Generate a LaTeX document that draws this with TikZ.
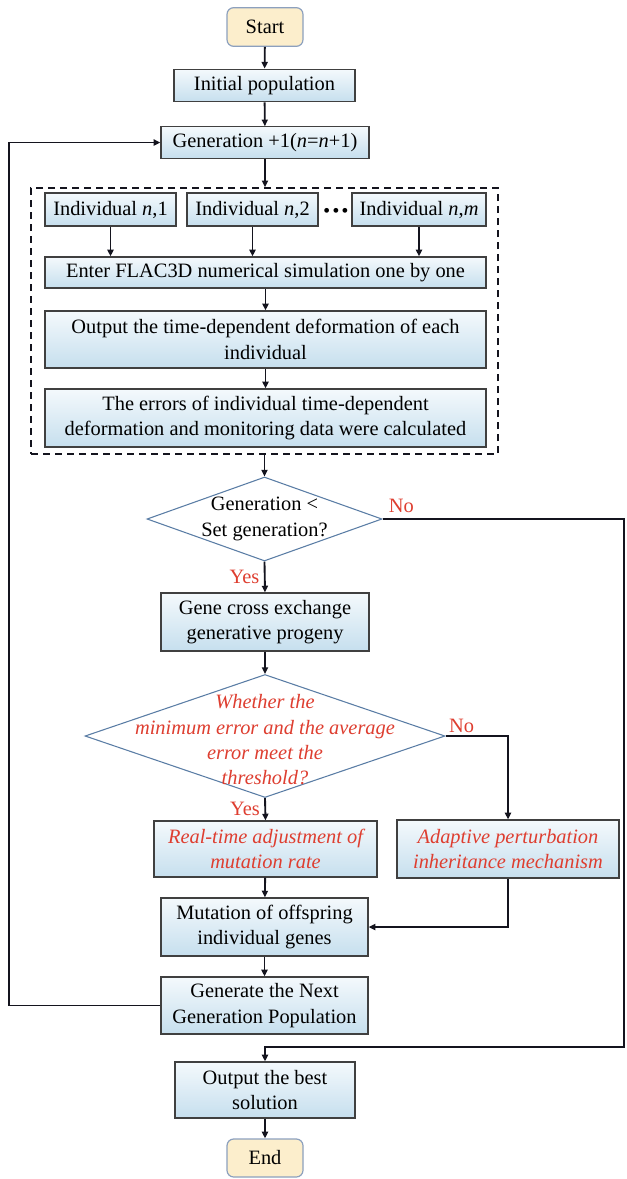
\documentclass[tikz,border=0pt]{standalone}
\usepackage{fontspec}
\setmainfont{Liberation Serif}
\usetikzlibrary{shapes.geometric,arrows.meta}
\definecolor{boxtop}{RGB}{244,249,252}
\definecolor{boxbot}{RGB}{198,223,238}
\definecolor{boxline}{RGB}{64,64,64}
\definecolor{termfill}{RGB}{252,238,204}
\definecolor{termline}{RGB}{140,160,190}
\definecolor{dialine}{RGB}{90,125,165}
\definecolor{linecol}{RGB}{20,20,30}
\definecolor{ansred}{RGB}{222,62,48}
\newcommand{\flowfont}{\fontsize{15.3pt}{19pt}\selectfont}
\tikzset{
  proc/.style={draw=boxline, line width=0.9pt, top color=boxtop, bottom color=boxbot,
    align=center, inner sep=1pt, font=\flowfont},
  term/.style={draw=termline, line width=0.9pt, fill=termfill, rounded corners=5pt,
    minimum width=57pt, minimum height=29pt, font=\flowfont},
  decision/.style={diamond, draw=dialine, line width=0.8pt, fill=white, inner sep=0pt},
  dtext/.style={align=center, font=\flowfont},
  grpbox/.style={draw=linecol, line width=1.2pt, dash pattern=on 5.5pt off 3.5pt},
  flow/.style={draw=linecol, line width=1.4pt, -{Triangle[length=5pt,width=4.5pt]}},
  ans/.style={text=ansred, font=\flowfont}
}
\begin{document}
\begin{tikzpicture}[x=0.75pt,y=-0.75pt]
\useasboundingbox (0,0) rectangle (626,1179);
% top part
\node[term] (start) at (265,27) {Start};
\node[proc, minimum width=135.75pt, minimum height=24.5pt] (init) at (264.5,85.5) {Initial population};
\node[proc, minimum width=156pt, minimum height=23.5pt] (gen) at (265,142.5) {Generation +1(\textit{n}=\textit{n}+1)};
% group of individuals
\node[grpbox, minimum width=350.25pt, minimum height=199.5pt] (grp) at (264.5,321) {};
\node[proc, minimum width=98.25pt, minimum height=24.75pt] (ind1) at (110.5,209.5) {Individual \textit{n},1};
\node[proc, minimum width=98.25pt, minimum height=24.75pt] (ind2) at (252.5,209.5) {Individual \textit{n},2};
\node[proc, minimum width=100.5pt, minimum height=24.75pt] (indm) at (419,209.5) {Individual \textit{n},\textit{m}};
\node[inner sep=0pt] (dots) at (336,214) {\fontsize{22pt}{22pt}\selectfont\bfseries ·\kern-0.5pt·\kern-0.5pt·};
\node[proc, minimum width=330.75pt, minimum height=23.25pt] (enter) at (265.5,272.5) {Enter FLAC3D numerical simulation one by one};
\node[proc, minimum width=330.75pt, minimum height=42.75pt] (outp) at (265.5,339.5) {Output the time-dependent deformation of each\\individual};
\node[proc, minimum width=330.75pt, minimum height=43.5pt] (errs) at (265.5,418) {The errors of individual time-dependent\\deformation and monitoring data were calculated};
% decisions and operators
\node[decision, minimum width=176.25pt, minimum height=63pt] (d1) at (264.5,519) {};
\node[dtext] (d1t) at (d1) {Generation <\\Set generation?};
\node[proc, minimum width=156pt, minimum height=43.5pt] (gene) at (265,622) {Gene cross exchange\\generative progeny};
\node[decision, minimum width=270pt, minimum height=92.25pt] (d2) at (265,736) {};
\node[dtext, text=ansred, font=\flowfont\itshape] (d2t) at (265,740) {Whether the\\minimum error and the average\\error meet the\\threshold?};
\node[proc, text=ansred, font=\flowfont\itshape, minimum width=167.25pt, minimum height=42pt] (real) at (265.5,849) {Real-time adjustment of\\mutation rate};
\node[proc, text=ansred, font=\flowfont\itshape, minimum width=166.5pt, minimum height=43.5pt] (adapt) at (508,849) {Adaptive perturbation\\inheritance mechanism};
\node[proc, minimum width=155.25pt, minimum height=43.5pt] (mut) at (264.5,927) {Mutation of offspring\\individual genes};
\node[proc, minimum width=155.25pt, minimum height=42.75pt] (next) at (264.5,1005.5) {Generate the Next\\Generation Population};
\node[proc, minimum width=135pt, minimum height=42pt] (best) at (265,1090) {Output the best\\solution};
\node[term, minimum height=28.5pt] (stop) at (265,1158) {End};
\coordinate (loopx) at (9,0);
\coordinate (rightx) at (624,0);
\coordinate (joiny) at (0,1047);
% connectors
\draw[flow] (start) -- (init);
\draw[flow] (init) -- (gen);
\draw[flow] (gen.south) -- (gen.south |- grp.north);
\draw[flow] (ind1) -- (ind1 |- enter.north);
\draw[flow] (ind2) -- (ind2 |- enter.north);
\draw[flow] (indm) -- (indm |- enter.north);
\draw[flow] (enter) -- (outp);
\draw[flow] (outp) -- (errs);
\draw[flow] (grp.south) -- (d1.north);
\draw[flow] (d1.south) -- node[ans, left] {Yes} (gene.north);
\draw[flow] (gene) -- (d2.north);
\draw[flow] (d2.south) -- node[ans, left] {Yes} (real.north);
\draw[flow] (d2.east) -| node[ans, pos=0, anchor=south west, inner sep=2pt] {No} (adapt.north);
\draw[flow] (real) -- (mut);
\draw[flow] (adapt.south) |- (mut.east);
\draw[flow] (mut) -- (next);
\draw[flow] (next.west) -- (next.west -| loopx) |- (gen.west);
\draw[flow] (d1.east) -- node[ans, pos=0, anchor=south west, inner sep=4pt] {No} (d1.east -| rightx) |- (best.north |- joiny) -- (best.north);
\draw[flow] (best) -- (stop);
\end{tikzpicture}
\end{document}
